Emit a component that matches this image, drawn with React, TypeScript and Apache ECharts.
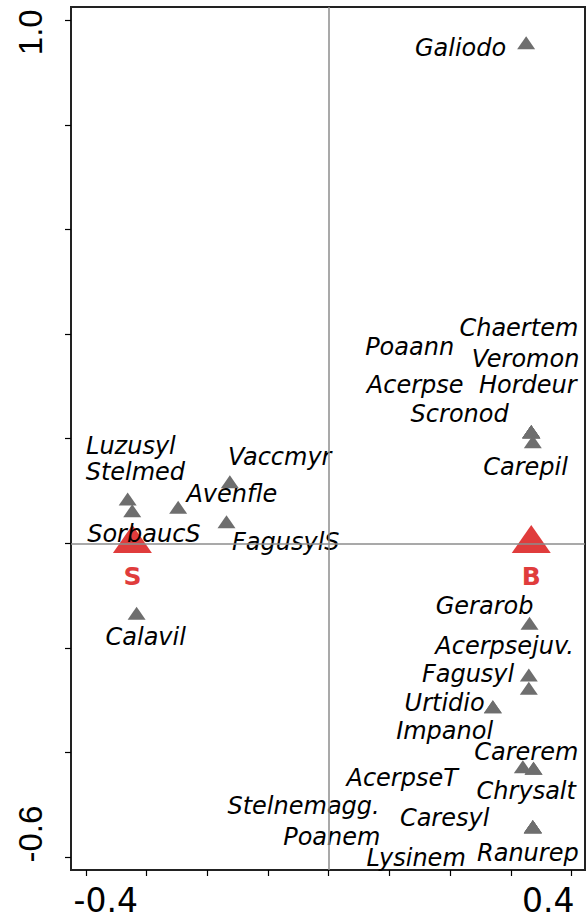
import React, { useEffect, useRef } from "react";
import * as echarts from "echarts";

// ---- species points (grey triangles) ----
const speciesNames = [
  "Galiodo", "Chaertem", "Poaann", "Veromon", "Acerpse", "Hordeur", "Scronod", "Carepil",
  "Luzusyl", "Stelmed", "SorbaucS", "Avenfle", "Vaccmyr", "FagusylS", "Calavil",
  "Gerarob", "Acerpsejuv.", "Fagusyl", "Urtidio", "Impanol", "Carerem", "AcerpseT",
  "Chrysalt", "Stelnemagg.", "Caresyl", "Poanem", "Lysinem", "Ranurep",
];
const speciesX = [
  0.325, 0.3334, 0.3334, 0.3334, 0.3334, 0.3334, 0.3334, 0.336,
  -0.331, -0.3235, -0.3232, -0.2479, -0.1628, -0.1683, -0.3163,
  0.3306, 0.3294, 0.3294, 0.2702, 0.2702, 0.3196, 0.3372,
  0.3372, 0.336, 0.336, 0.336, 0.336, 0.336,
];
const speciesY = [
  0.957, 0.2134, 0.2134, 0.2134, 0.2134, 0.2134, 0.2134, 0.1943,
  0.0847, 0.0623, 0.01, 0.0688, 0.1178, 0.0413, -0.1338,
  -0.153, -0.2518, -0.2772, -0.3124, -0.3124, -0.4272, -0.4302,
  -0.4302, -0.5419, -0.5419, -0.5419, -0.5419, -0.5419,
];

// ---- species label anchors (text centres) ----
const labelX = [
  0.2171, 0.313, 0.1332, 0.324, 0.1423, 0.3278, 0.2155, 0.324,
  -0.3257, -0.3183, -0.3043, -0.1595, -0.0806, -0.0707, -0.3013,
  0.2566, 0.2895, 0.2294, 0.1908, 0.1908, 0.3252, 0.1209,
  0.3252, -0.0414, 0.1908, 0.005, 0.1439, 0.3278,
];
const labelY = [
  0.9465, 0.4107, 0.3753, 0.3524, 0.3027, 0.3027, 0.2463, 0.1468,
  0.1862, 0.1363, 0.0178, 0.0933, 0.165, 0.0025, -0.1801,
  -0.1208, -0.1973, -0.2499, -0.3054, -0.3589, -0.399, -0.4488,
  -0.4736, -0.5023, -0.5252, -0.5625, -0.6017, -0.5922,
];

// ---- sites (red triangles) ----
const siteNames = ["S", "B"];
const siteX = [-0.3232, 0.3334];
const siteY = [0.008, 0.008];

// ---- axes ----
const xMin = -0.4243;
const xMax = 0.4219;
const yMin = -0.6247;
const yMax = 1.0254;
const xTicks = [-0.4, -0.3, -0.2, -0.1, 0, 0.1, 0.2, 0.3, 0.4];
const yTicks = [-0.6, -0.4, -0.2, 0, 0.2, 0.4, 0.6, 0.8, 1.0];
const xTickLabelValues = [-0.4, 0.4];
const xTickLabels = ["-0.4", "0.4"];
const yTickLabelValues = [-0.6, 1.0];
const yTickLabels = ["-0.6", "1.0"];

function pickIndex(vals: number[], v: number) {
  let best = 0;
  for (let i = 1; i < vals.length; i++) {
    if (Math.abs(vals[i] - v) < Math.abs(vals[best] - v)) best = i;
  }
  return best;
}

export default function App() {
  const ref = useRef<HTMLDivElement>(null);

  useEffect(() => {
    document.body.style.margin = "0";
    if (!ref.current) return;
    const chart = echarts.init(ref.current, undefined, { renderer: "svg" });

    const labelFont = "'DejaVu Sans', sans-serif";
    const yFont = "'Liberation Sans', Arial, sans-serif";

    const option: any = {
      animation: false,
      backgroundColor: "#fff",
      grid: {
        left: 71,
        right: 3,
        top: 7,
        bottom: 50,
        containLabel: false,
        outerBoundsMode: "none",
        show: true,
        borderColor: "#222",
        borderWidth: 2,
        backgroundColor: "transparent",
      },
      xAxis: {
        type: "value",
        min: xMin,
        max: xMax,
        axisLine: { show: false, onZero: false },
        splitLine: { show: false },
        axisTick: {
          show: true,
          customValues: xTicks,
          length: 6,
          lineStyle: { color: "#000", width: 1.2 },
        },
        axisLabel: {
          show: true,
          customValues: xTickLabelValues,
          margin: 17,
          color: "#000",
          fontSize: 33,
          lineHeight: 26,
          fontFamily: labelFont,
          formatter: (v: number) => {
            const i = pickIndex(xTickLabelValues, v);
            return `{${i === 0 ? "a" : "b"}|${xTickLabels[i]}}`;
          },
          rich: {
            a: { padding: [0, 0, 0, 40], fontSize: 33, lineHeight: 26, fontFamily: labelFont, color: "#000" },
            b: { padding: [0, 47, 0, 0], fontSize: 33, lineHeight: 26, fontFamily: labelFont, color: "#000" },
          },
        },
      },
      yAxis: {
        type: "value",
        min: yMin,
        max: yMax,
        axisLine: { show: false, onZero: false },
        splitLine: { show: false },
        axisTick: {
          show: true,
          customValues: yTicks,
          length: 6,
          lineStyle: { color: "#000", width: 1.2 },
        },
        axisLabel: {
          show: true,
          customValues: yTickLabelValues,
          rotate: 90,
          margin: 24,
          color: "#000",
          fontSize: 33,
          fontFamily: yFont,
          formatter: (v: number) => {
            const i = pickIndex(yTickLabelValues, v);
            return `{${i === 0 ? "a" : "b"}|${yTickLabels[i]}}`;
          },
          rich: {
            a: { padding: [0, 0, 0, 46], fontSize: 33, fontFamily: yFont, color: "#000" },
            b: { padding: [0, 24, 0, 0], fontSize: 33, fontFamily: yFont, color: "#000" },
          },
        },
      },
      series: [
        {
          type: "scatter",
          name: "zero",
          data: [],
          silent: true,
          z: 1,
          markLine: {
            silent: true,
            symbol: "none",
            label: { show: false },
            lineStyle: { color: "#8c8c8c", width: 1.5, type: "solid" },
            data: [{ xAxis: 0 }, { yAxis: 0 }],
          },
        },
        {
          type: "scatter",
          name: "species",
          symbol: "triangle",
          symbolSize: [18, 13],
          itemStyle: { color: "#6e6e6e", opacity: 1 },
          silent: true,
          z: 2,
          data: speciesNames.map((n, i) => ({ name: n, value: [speciesX[i], speciesY[i]] })),
        },
        {
          type: "scatter",
          name: "sites",
          symbol: "triangle",
          symbolSize: [39, 28],
          itemStyle: { color: "#e03c3c", opacity: 1 },
          silent: true,
          z: 3,
          label: {
            show: true,
            position: "inside",
            offset: [0, 37],
            formatter: "{b}",
            color: "#e03c3c",
            fontWeight: "bold",
            fontSize: 25,
            fontFamily: labelFont,
          },
          data: siteNames.map((n, i) => ({ name: n, value: [siteX[i], siteY[i]] })),
        },
        {
          type: "scatter",
          name: "labels",
          symbol: "circle",
          symbolSize: 0,
          silent: true,
          z: 4,
          itemStyle: { color: "transparent", opacity: 1 },
          label: {
            show: true,
            position: "inside",
            formatter: "{b}",
            color: "#000",
            opacity: 1,
            fontStyle: "italic",
            fontSize: 24,
            lineHeight: 21,
            fontFamily: labelFont,
          },
          data: speciesNames.map((n, i) => ({ name: n, value: [labelX[i], labelY[i]] })),
        },
      ],
    };

    chart.setOption(option);
    return () => {
      chart.dispose();
    };
  }, []);

  return <div ref={ref} style={{ width: 588, height: 920 }} />;
}
